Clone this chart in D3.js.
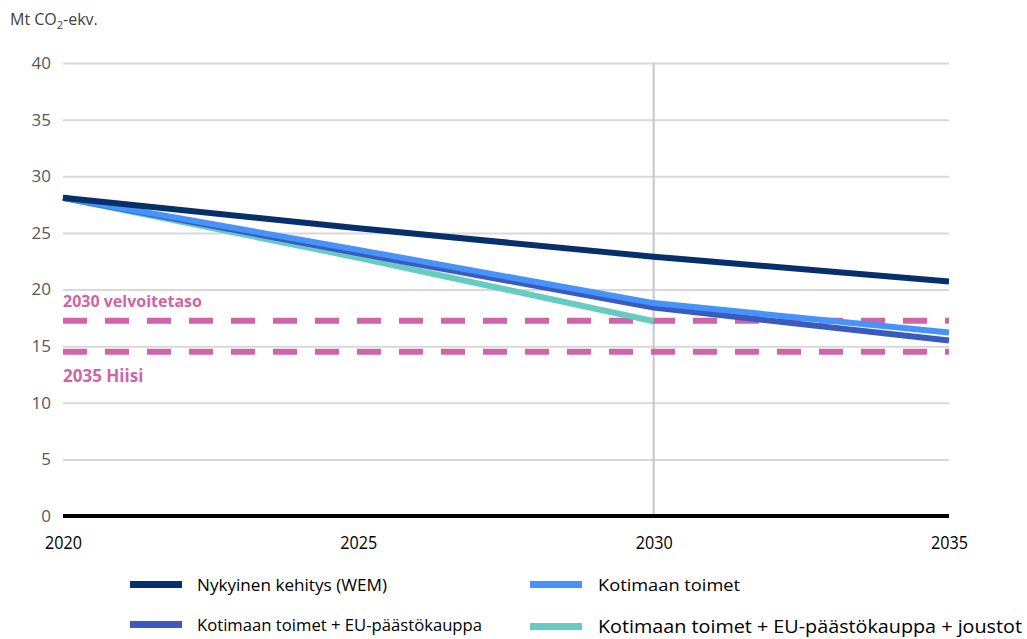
<!DOCTYPE html>
<html>
<head>
<meta charset="utf-8">
<script src="https://cdn.jsdelivr.net/npm/d3@7"></script>
<style>
  body { margin: 0; background: #fff; }
  svg { display: block; font-family: "Open Sans", "DejaVu Sans", sans-serif; }
</style>
</head>
<body>
<script>
// Data (Mt CO2-ekv.)
const years = [2020, 2025, 2030, 2035];
const wem = [28.1, 25.4, 22.9, 20.7];
const domestic = [28.1, 23.5, 18.8, 16.2];
const domesticEts = [28.1, 23.2, 18.4, 15.5];
const domesticEtsFlex = [28.1, 22.8, 17.2, null];
const targetLevels = [17.25, 14.5];
const targetLabels = ['2030 velvoitetaso', '2035 Hiisi'];
const yTicks = [0, 5, 10, 15, 20, 25, 30, 35, 40];
const seriesNames = [
  'Nykyinen kehitys (WEM)',
  'Kotimaan toimet',
  'Kotimaan toimet + EU-päästökauppa',
  'Kotimaan toimet + EU-päästökauppa + joustot'
];

const W = 1027, H = 639;
const margin = { top: 63, right: 78, bottom: 123, left: 63 };
const width = W - margin.left - margin.right;
const height = H - margin.top - margin.bottom;

const svg = d3.select('body').append('svg')
  .attr('width', W).attr('height', H);

const g = svg.append('g')
  .attr('transform', `translate(${margin.left}, ${margin.top})`);

const x = d3.scaleLinear().domain([2020, 2035]).range([0, width]);
const y = d3.scaleLinear().domain([0, 40]).range([height, 0]);

// Gridlines + y labels
const yAxis = g.append('g')
  .call(d3.axisLeft(y).tickValues(yTicks).tickSize(-width).tickPadding(12));
yAxis.select('.domain').remove();
yAxis.selectAll('line').attr('stroke', '#d9d9d9').attr('stroke-width', 2);
yAxis.selectAll('text')
  .attr('fill', '#595959').attr('font-size', 17)
  .attr('font-family', '"Open Sans", sans-serif');

// Vertical line at 2030
g.append('line')
  .attr('x1', x(2030)).attr('x2', x(2030))
  .attr('y1', 0).attr('y2', height)
  .attr('stroke', '#c6c6c6').attr('stroke-width', 2);

// Zero line
g.append('line')
  .attr('x1', 0).attr('x2', width)
  .attr('y1', y(0)).attr('y2', y(0))
  .attr('stroke', '#000').attr('stroke-width', 4);

// x labels
const xAxis = g.append('g')
  .attr('transform', `translate(0, ${height})`)
  .call(d3.axisBottom(x).tickValues(years).tickFormat(d3.format('d')).tickSize(0).tickPadding(20));
xAxis.select('.domain').remove();
xAxis.selectAll('text')
  .attr('fill', '#000').attr('font-size', 19)
  .attr('font-family', '"Open Sans", sans-serif')
  .attr('transform', 'scale(0.85,1)');

// Target dashed lines
g.selectAll('.target')
  .data(targetLevels)
  .enter().append('line')
  .attr('class', 'target')
  .attr('x1', 0).attr('x2', width)
  .attr('y1', (d) => y(d)).attr('y2', (d) => y(d))
  .attr('stroke', '#d064a8').attr('stroke-width', 6)
  .attr('stroke-dasharray', '24 18');

g.selectAll('.target-label')
  .data(targetLabels)
  .enter().append('text')
  .attr('class', 'target-label')
  .attr('x', 0)
  .attr('y', (d, i) => i === 0 ? y(targetLevels[0]) - 14 : y(targetLevels[1]) + 30)
  .attr('fill', '#d064a8')
  .attr('font-weight', 'bold')
  .attr('font-size', (d, i) => i === 0 ? 16 : 17)
  .text((d) => d);

// Series lines
const series = [
  { values: wem, color: '#062f6c' },
  { values: domestic, color: '#4593fb' },
  { values: domesticEts, color: '#3a5bbd' },
  { values: domesticEtsFlex, color: '#66cbc1' }
];
const line = d3.line()
  .defined((d) => d != null)
  .x((d, i) => x(years[i]))
  .y((d) => y(d));

// draw teal first, then dark blue, light blue, WEM
[3, 2, 1, 0].forEach((k) => {
  g.append('path')
    .datum(series[k].values)
    .attr('fill', 'none')
    .attr('stroke', series[k].color)
    .attr('stroke-width', 6)
    .attr('d', line);
});

// Title / unit
const unit = svg.append('text')
  .attr('x', 10).attr('y', 25)
  .attr('fill', '#404040').attr('font-size', 16);
unit.append('tspan').text('Mt CO');
unit.append('tspan').attr('font-size', 11).attr('dy', 4).text('2');
unit.append('tspan').attr('dy', -4).text('-ekv.');

// Legend
const legendPos = [
  { sx: 130, tx: 197, y: 585, len: 190, fs: 16 },
  { sx: 530, tx: 598, y: 585, len: 142, fs: 16 },
  { sx: 130, tx: 197, y: 625, len: 285, fs: 16 },
  { sx: 530, tx: 598, y: 627, len: 424, fs: 18 }
];
const legend = svg.append('g');
seriesNames.forEach((name, i) => {
  const p = legendPos[i];
  legend.append('rect')
    .attr('x', p.sx).attr('y', p.y - 4)
    .attr('width', 52).attr('height', 7)
    .attr('fill', series[i].color);
  legend.append('text')
    .attr('x', p.tx).attr('y', p.y + 6)
    .attr('font-size', p.fs).attr('fill', '#000')
    .attr('font-family', '"Open Sans", sans-serif')
    .attr('textLength', p.len).attr('lengthAdjust', 'spacingAndGlyphs')
    .text(name);
});
</script>
</body>
</html>
